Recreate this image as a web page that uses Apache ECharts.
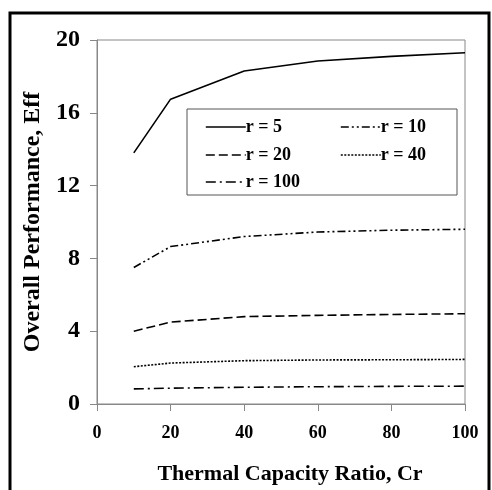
<!DOCTYPE html>
<html>
<head>
<meta charset="utf-8">
<script src="https://cdn.jsdelivr.net/npm/echarts@6/dist/echarts.min.js"></script>
<style>html,body{margin:0;padding:0;background:#fff}#c{width:492px;height:490px}</style>
</head>
<body>
<div id="c"></div>
<script>
const cr = [10, 20, 40, 60, 80, 100];
const r5 = [13.8, 16.75, 18.3, 18.85, 19.1, 19.3];
const r10 = [7.5, 8.65, 9.2, 9.45, 9.55, 9.6];
const r20 = [4.0, 4.5, 4.8, 4.87, 4.92, 4.96];
const r40 = [2.05, 2.25, 2.38, 2.42, 2.43, 2.45];
const r100 = [0.83, 0.87, 0.92, 0.95, 0.97, 0.98];
const names = ['r = 5', 'r = 10', 'r = 20', 'r = 40', 'r = 100'];
const xTicks = [0, 20, 40, 60, 80, 100];
const yTicks = [0, 4, 8, 12, 16, 20];

const font = '"Liberation Serif", "Times New Roman", serif';
const dashes = ['solid', [8, 3, 2, 3, 2, 3], [9, 4], [2, 1.5], [10, 4, 2, 4]];
const allData = [r5, r10, r20, r40, r100];

const series = allData.map((d, i) => ({
  name: names[i],
  type: 'line',
  data: cr.map((x, j) => [x, d[j]]),
  symbol: 'none',
  showSymbol: false,
  lineStyle: { color: '#000', width: 1.6, type: dashes[i] },
  itemStyle: { color: '#000' },
  silent: true
}));

const legendPos = [
  { left: 205, top: 118 },
  { left: 340, top: 118 },
  { left: 205, top: 146 },
  { left: 340, top: 146 },
  { left: 205, top: 173 }
];
const legends = names.map((n, i) => ({
  data: [n],
  left: legendPos[i].left,
  top: legendPos[i].top,
  padding: 0,
  itemWidth: 40,
  itemHeight: 14,
  itemGap: 0,
  selectedMode: false,
  itemStyle: { opacity: 0 },
  lineStyle: { color: '#000', width: 1.6, type: dashes[i] },
  textStyle: { fontFamily: font, fontWeight: 'bold', fontSize: 18, color: '#000', padding: [0, 0, 0, -5] }
}));

const chart = echarts.init(document.getElementById('c'), null, { renderer: 'canvas' });
chart.setOption({
  animation: false,
  backgroundColor: '#fff',
  grid: { left: 97, right: 27, top: 40, bottom: 83, show: true, borderColor: '#888', borderWidth: 1 },
  legend: legends,
  xAxis: {
    type: 'value', min: xTicks[0], max: xTicks[xTicks.length - 1], interval: 20,
    name: 'Thermal Capacity Ratio, Cr', nameLocation: 'middle', nameGap: 59,
    nameTextStyle: { fontFamily: font, fontWeight: 'bold', fontSize: 22, color: '#000', padding: [0, 0, 0, 18] },
    axisLine: { lineStyle: { color: '#888', width: 1 } },
    axisTick: { show: true, inside: false, length: 7, lineStyle: { color: '#888' } },
    axisLabel: { margin: 20, fontFamily: font, fontWeight: 'bold', fontSize: 18, color: '#000' },
    splitLine: { show: false }
  },
  yAxis: {
    type: 'value', min: yTicks[0], max: yTicks[yTicks.length - 1], interval: 4,
    name: 'Overall Performance, Eff', nameLocation: 'middle', nameGap: 48,
    nameTextStyle: { fontFamily: font, fontWeight: 'bold', fontSize: 24, color: '#000', padding: [0, 0, 0, 0] },
    axisLine: { show: true, lineStyle: { color: '#888', width: 1 } },
    axisTick: { show: true, inside: false, length: 7, lineStyle: { color: '#888' } },
    axisLabel: { margin: 17, fontFamily: font, fontWeight: 'bold', fontSize: 24, color: '#000' },
    splitLine: { show: false }
  },
  graphic: [
    { type: 'rect', shape: { x: 10, y: 13, width: 479, height: 500 }, style: { fill: 'none', stroke: '#000', lineWidth: 3 }, silent: true },
    { type: 'rect', shape: { x: 187, y: 109, width: 270, height: 86 }, style: { fill: '#fff', stroke: '#555', lineWidth: 1 }, z: 1, silent: true }
  ],
  series: series
});
</script>
</body>
</html>
